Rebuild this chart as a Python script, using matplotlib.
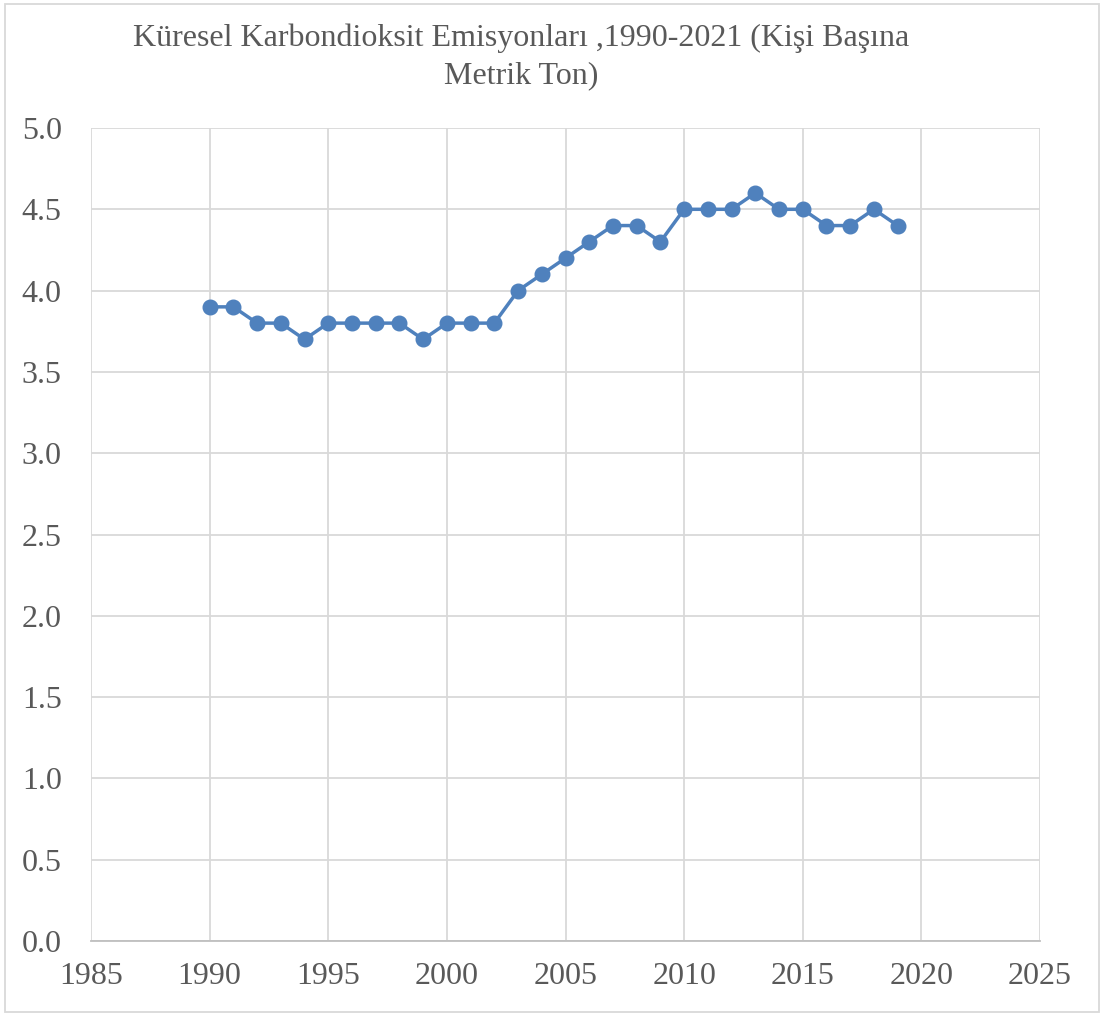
import matplotlib.pyplot as plt
from matplotlib.patches import Rectangle

# data
years = [1990, 1991, 1992, 1993, 1994, 1995, 1996, 1997, 1998, 1999,
         2000, 2001, 2002, 2003, 2004, 2005, 2006, 2007, 2008, 2009,
         2010, 2011, 2012, 2013, 2014, 2015, 2016, 2017, 2018, 2019]
emissions = [3.9, 3.9, 3.8, 3.8, 3.7, 3.8, 3.8, 3.8, 3.8, 3.7,
             3.8, 3.8, 3.8, 4.0, 4.1, 4.2, 4.3, 4.4, 4.4, 4.3,
             4.5, 4.5, 4.5, 4.6, 4.5, 4.5, 4.4, 4.4, 4.5, 4.4]
x_ticks = [1985, 1990, 1995, 2000, 2005, 2010, 2015, 2020, 2025]
y_ticks = [0.0, 0.5, 1.0, 1.5, 2.0, 2.5, 3.0, 3.5, 4.0, 4.5, 5.0]
title = "Küresel Karbondioksit Emisyonları ,1990-2021 (Kişi Başına\nMetrik Ton)"

plt.rcParams['font.family'] = ['Liberation Serif', 'DejaVu Serif']
text_col = '#595959'

fig = plt.figure(figsize=(11.07, 10.16), dpi=100)
ax = fig.add_axes([91 / 1107, 1 - 941 / 1016, (1040 - 91) / 1107, (941 - 128) / 1016])

ax.plot(years, emissions, color='#4F81BD', lw=2.5, marker='o', ms=10.5, zorder=3)

ax.set_xlim(1985, 2025)
ax.set_ylim(0, 5)
ax.set_xticks(x_ticks)
ax.set_yticks(y_ticks)
ax.set_yticklabels([f'{v:.1f}' for v in y_ticks])
ax.grid(True, color='#D9D9D9', lw=1.3)
ax.set_axisbelow(True)
for s in ['top', 'right', 'left']:
    ax.spines[s].set_visible(False)
ax.spines['bottom'].set_color('#BFBFBF')
ax.spines['bottom'].set_linewidth(1.3)
ax.tick_params(length=0, labelsize=23, labelcolor=text_col)
ax.tick_params(axis='y', pad=21)
ax.tick_params(axis='x', pad=15)

fig.text(521 / 1107, 1 - 57 / 1016, title, ha='center', va='center',
         fontsize=23, color=text_col, linespacing=1.4)

# chart border
fig.add_artist(Rectangle((5 / 1107, 4 / 1016), 1094 / 1107, 1008 / 1016,
                         transform=fig.transFigure, fill=False,
                         edgecolor='#D9D9D9', lw=1.3))

fig.savefig('out.png', dpi=100)
